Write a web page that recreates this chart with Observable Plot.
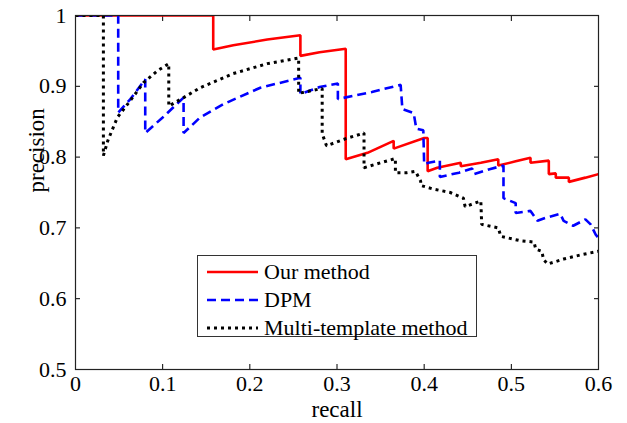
<!DOCTYPE html>
<html><head><meta charset="utf-8">
<script src="https://cdn.jsdelivr.net/npm/d3@7"></script>
<script src="https://cdn.jsdelivr.net/npm/@observablehq/plot@0.6"></script>
<style>
body{margin:0;background:#fff;}
#wrap{position:relative;width:627px;height:423px;font-family:"Liberation Serif","Times New Roman",serif;}
#legend{position:absolute;left:197px;top:255px;width:280px;height:82px;border:1px solid #333;background:#fff;box-sizing:border-box;}
.row{position:absolute;left:0;height:28px;display:flex;align-items:center;font-size:22px;color:#000;white-space:nowrap;}
.row svg{margin-left:9px;margin-right:6px;}
</style></head><body><div id="wrap"></div>
<script>
// [recall, precision]
const ourMethod = [[0,1],[0.158,1],[0.158,0.952],[0.181,0.958],[0.22,0.966],[0.258,0.972],[0.258,0.943],[0.28,0.948],[0.31,0.953],[0.31,0.797],[0.335,0.806],[0.365,0.823],[0.365,0.812],[0.40,0.827],[0.404,0.827],[0.404,0.78],[0.415,0.785],[0.442,0.792],[0.442,0.787],[0.465,0.792],[0.485,0.797],[0.485,0.788],[0.505,0.794],[0.522,0.799],[0.522,0.792],[0.543,0.795],[0.543,0.776],[0.551,0.777],[0.551,0.771],[0.566,0.771],[0.566,0.765],[0.585,0.771],[0.6,0.776]];
const dpm = [[0,1],[0.049,1],[0.049,0.863],[0.063,0.882],[0.08,0.91],[0.08,0.834],[0.10,0.856],[0.124,0.884],[0.124,0.834],[0.143,0.856],[0.17,0.875],[0.212,0.898],[0.258,0.912],[0.258,0.889],[0.28,0.899],[0.301,0.904],[0.301,0.882],[0.34,0.892],[0.373,0.902],[0.375,0.868],[0.388,0.862],[0.391,0.84],[0.399,0.838],[0.40,0.79],[0.405,0.792],[0.418,0.795],[0.418,0.772],[0.44,0.778],[0.455,0.784],[0.457,0.776],[0.475,0.783],[0.491,0.788],[0.491,0.742],[0.505,0.735],[0.505,0.721],[0.522,0.724],[0.53,0.71],[0.539,0.714],[0.556,0.72],[0.56,0.71],[0.571,0.703],[0.585,0.712],[0.591,0.705],[0.597,0.69],[0.6,0.686]];
const multiTemplate = [[0,1],[0.032,1],[0.032,0.802],[0.037,0.823],[0.048,0.856],[0.063,0.88],[0.078,0.905],[0.094,0.922],[0.107,0.932],[0.107,0.872],[0.124,0.884],[0.143,0.898],[0.181,0.918],[0.22,0.932],[0.256,0.94],[0.256,0.89],[0.283,0.897],[0.283,0.833],[0.288,0.816],[0.31,0.826],[0.331,0.834],[0.331,0.785],[0.35,0.792],[0.367,0.798],[0.367,0.778],[0.38,0.778],[0.39,0.78],[0.396,0.766],[0.396,0.76],[0.41,0.755],[0.43,0.75],[0.445,0.742],[0.447,0.73],[0.465,0.738],[0.466,0.705],[0.485,0.70],[0.488,0.688],[0.51,0.682],[0.526,0.68],[0.528,0.67],[0.535,0.667],[0.537,0.655],[0.542,0.649],[0.56,0.656],[0.58,0.662],[0.6,0.667]];
const seriesNames = ["Our method","DPM","Multi-template method"];
const xTicks = [0,0.1,0.2,0.3,0.4,0.5,0.6];
const xTickLabels = ["0","0.1","0.2","0.3","0.4","0.5","0.6"];
const yTicks = [0.5,0.6,0.7,0.8,0.9,1];
const yTickLabels = ["0.5","0.6","0.7","0.8","0.9","1"];
const xLabel = "recall";
const yLabel = "precision";

const styles = [
  {stroke:"#ff0000", strokeWidth:2.6, strokeDasharray:null},
  {stroke:"#0000ff", strokeWidth:2.6, strokeDasharray:"9,5"},
  {stroke:"#000000", strokeWidth:3, strokeDasharray:"3,4"}
];
const allSeries = [ourMethod, dpm, multiTemplate];

function lab(ticks, labels){ return d => { let k=0, b=1e9; ticks.forEach((t,i)=>{const e=Math.abs(t-d); if(e<b){b=e;k=i;}}); return labels[k]; }; }

const chart = Plot.plot({
  width:627, height:423,
  marginLeft:75, marginRight:29, marginTop:15, marginBottom:54,
  style:{fontFamily:"'Liberation Serif','Times New Roman',serif", fontSize:"22px", color:"#000", background:"#fff"},
  x:{domain:[0,0.6]},
  y:{domain:[0.5,1]},
  marks:[
    Plot.axisX({ticks:xTicks, tickFormat:lab(xTicks,xTickLabels), tickSize:-5, tickPadding:11, label:null}),
    Plot.axisX({anchor:"top", ticks:xTicks, tickSize:-5, tickFormat:()=>"", label:null}),
    Plot.axisY({ticks:yTicks, tickFormat:lab(yTicks,yTickLabels), tickSize:-5, tickPadding:14, label:null}),
    Plot.axisY({anchor:"right", ticks:yTicks, tickSize:-5, tickFormat:()=>"", label:null}),
    Plot.text([xLabel], {frameAnchor:"bottom", text:d=>d, dy:40, lineAnchor:"middle", fontSize:23}),
    Plot.text([yLabel], {frameAnchor:"left", text:d=>d, dx:-39, rotate:-90, lineAnchor:"middle", fontSize:23}),
    ...allSeries.map((s,i)=>Plot.line(s, {x:d=>d[0], y:d=>d[1], ...styles[i], strokeLinecap:"butt", strokeLinejoin:"miter", clip:true})),
    Plot.frame({stroke:"#222", strokeWidth:1.2})
  ]
});
const wrap = document.getElementById("wrap");
chart.style.position="absolute"; chart.style.left="0"; chart.style.top="0";
wrap.appendChild(chart);

const legend = document.createElement("div");
legend.id="legend";
const centers=[17,45,73];
seriesNames.forEach((n,i)=>{
  const row=document.createElement("div");
  row.className="row"; row.style.top=(centers[i]-14-1)+"px";
  const st=styles[i];
  row.innerHTML=`<svg width="51" height="6"><line x1="0" y1="3" x2="51" y2="3" stroke="${st.stroke}" stroke-width="${st.strokeWidth}" ${st.strokeDasharray?`stroke-dasharray="${st.strokeDasharray}"`:""}/></svg><span>${n}</span>`;
  legend.appendChild(row);
});
wrap.appendChild(legend);
</script>
</body></html>
